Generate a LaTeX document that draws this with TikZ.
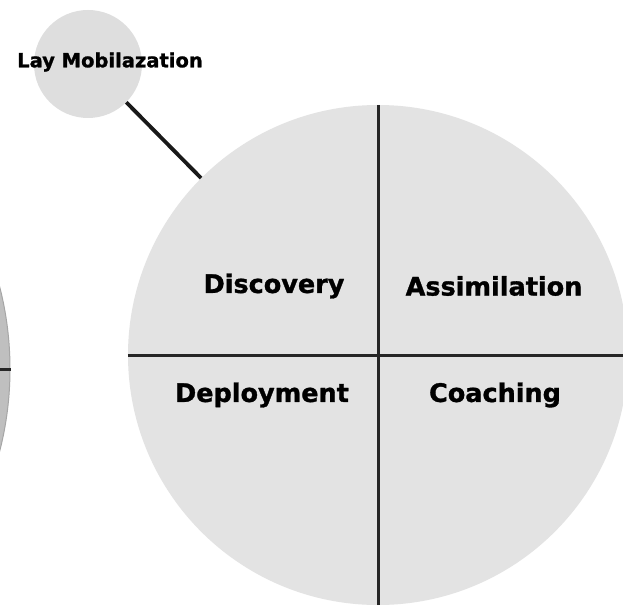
\documentclass[tikz,border=0pt]{standalone}
\usepackage{fontspec}
\setmainfont{DejaVu Sans}
\newfontfamily\heavyfont[BoldFeatures={FakeBold=1.2}]{DejaVu Sans}
\begin{document}
\begin{tikzpicture}[x=1pt,y=-1pt,
  bigdisc/.style={circle,fill=black!11,inner sep=0pt,minimum size=500pt},
  smalldisc/.style={circle,fill=black!13,inner sep=0pt,minimum size=108pt},
  leftdisc/.style={circle,fill=black!25,draw=black!35,line width=1pt,inner sep=0pt,minimum size=660pt},
  divider/.style={line width=3pt,draw=black!85},
  quad/.style={font=\heavyfont\bfseries\fontsize{25.5}{30}\selectfont,inner sep=0pt,text=black},
  lbl/.style={font=\heavyfont\bfseries\fontsize{19.5}{22}\selectfont,inner sep=0pt,text=black}]
\useasboundingbox (0,0) rectangle (623,609);
\clip (0,0) rectangle (623,609);
\fill[white] (0,0) rectangle (623,609);
% left partial disc
\node[leftdisc] (leftc) at (-320,369) {};
\coordinate (lstart) at (0,369);
\draw[divider] (lstart) -- (leftc.east);
% small disc
\node[smalldisc] (small) at (88,64) {};
\node[lbl] (laymob) at (110,62) {Lay Mobilazation};
% big disc
\node[bigdisc] (big) at (378,355) {};
\coordinate (rend) at (623,355);
\draw[divider] (big.north) -- (big.south);
\draw[divider] (big.west) -- (rend);
% connector
\draw[line width=3.8pt,draw=black!90] (small.-45) -- (big.135);
% quadrant labels
\node[quad] (disc) at (274,286) {Discovery};
\node[quad] (assim) at (494,286) {Assimilation};
\node[quad] (deploy) at (262,395) {Deployment};
\node[quad] (coach) at (495,395) {Coaching};
\end{tikzpicture}
\end{document}
